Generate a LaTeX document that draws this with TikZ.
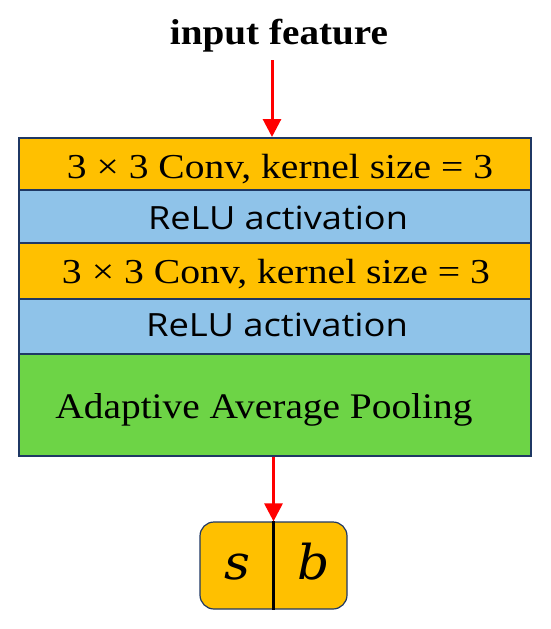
\documentclass[tikz,border=0pt]{standalone}
\usepackage{fontspec}
\usepackage{graphicx}
\setmainfont{Liberation Serif}
\newfontfamily\relufont{Open Sans}
\newfontfamily\sbfont{DejaVu Serif}
\usetikzlibrary{arrows.meta}
\definecolor{convcol}{HTML}{FFC000}
\definecolor{relucol}{HTML}{8FC3E9}
\definecolor{poolcol}{HTML}{6DD446}
\definecolor{edgecol}{HTML}{1F3864}
\definecolor{arrowred}{HTML}{FF0000}
\begin{document}
\begin{tikzpicture}[x=1pt,y=-1pt,
  layer/.style={draw=edgecol, line width=1.5pt, minimum width=512pt, inner sep=0pt, anchor=north west},
  lbl/.style={anchor=base, inner sep=0pt},
  flow/.style={draw=arrowred, line width=3pt, -{Triangle[width=18pt,length=18pt]}}]
\useasboundingbox (0,0) rectangle (550,629);
% title
\node[lbl] (title) at (279,44) {\fontsize{36}{40}\selectfont\bfseries\resizebox{218pt}{\height}{input feature}};
% layers
\node[layer, fill=convcol, minimum height=52pt] (c1) at (18,137) {};
\node[layer, fill=relucol, minimum height=53pt] (r1) at (18,189) {};
\node[layer, fill=convcol, minimum height=56pt] (c2) at (18,242) {};
\node[layer, fill=relucol, minimum height=55pt] (r2) at (18,298) {};
\node[layer, fill=poolcol, minimum height=102pt] (p) at (18,353) {};
% layer texts
\node[lbl] (t1) at (280,178) {\fontsize{35}{40}\selectfont\resizebox{426pt}{\height}{3 × 3 Conv, kernel size = 3}};
\node[lbl] (t2) at (278,229) {\relufont\fontsize{32}{36}\selectfont\resizebox{260pt}{\height}{ReLU activation}};
\node[lbl] (t3) at (276,283) {\fontsize{35}{40}\selectfont\resizebox{428pt}{\height}{3 × 3 Conv, kernel size = 3}};
\node[lbl] (t4) at (277,336) {\relufont\fontsize{32}{36}\selectfont\resizebox{262pt}{\height}{ReLU activation}};
\node[lbl] (t5) at (264,418) {\fontsize{36}{40}\selectfont\resizebox{417pt}{\height}{Adaptive Average Pooling}};
% output box
\node[draw=edgecol, line width=1.2pt, fill=convcol, rounded corners=14pt,
      minimum width=147pt, minimum height=87pt, inner sep=0pt] (out) at (273.5,565.5) {};
\draw[line width=2.2pt] (out.north) -- (out.south);
\node[lbl] (s) at (237,579) {\sbfont\itshape\fontsize{48}{52}\selectfont\scalebox{1.05}[1]{s}};
\node[lbl] (b) at (314,579) {\sbfont\itshape\fontsize{48}{52}\selectfont\scalebox{1.05}[1]{b}};
% arrows
\coordinate (in) at (272,60);
\draw[flow] (in) -- (in |- c1.north);
\draw[flow] (p.south -| out.north) -- (out.north);
\end{tikzpicture}
\end{document}
